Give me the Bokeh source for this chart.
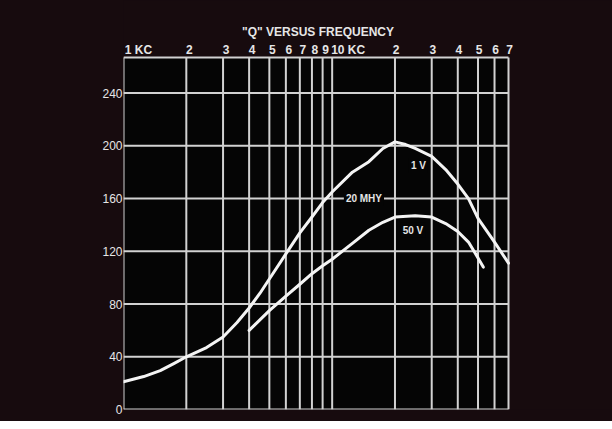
from bokeh.plotting import figure
from bokeh.models import Range1d, FixedTicker, LabelSet, Label, ColumnDataSource
from bokeh.core.properties import value
from bokeh.embed import file_html
from bokeh.resources import INLINE
import math

# ---- data ----
freq_1v = [1, 1.25, 1.5, 1.75, 2, 2.5, 3, 3.5, 4, 4.5, 5, 6, 7, 8, 9, 10, 12.5, 15, 17.5, 20, 22.5, 25, 30, 35, 40, 45, 50, 60, 70]
q_1v = [21, 25, 29.5, 35, 40, 47, 55, 66, 77, 88, 99, 118, 134, 146, 157, 165, 180, 188, 198, 203, 201, 198, 192, 182, 171, 160, 145, 127, 111]

freq_50v = [4, 5, 6, 7, 8, 9, 10, 12.5, 15, 17.5, 20, 25, 30, 35, 40, 45, 50, 53]
q_50v = [60, 75, 86, 95, 103, 109, 114, 126, 136, 142, 146, 147, 146, 141, 135, 127, 115, 108]

x_ticks = [1, 2, 3, 4, 5, 6, 7, 8, 9, 10, 20, 30, 40, 50, 60, 70]
x_tick_labels = ["1 KC", "2", "3", "4", "5", "6", "7", "8", "9", "10 KC", "2", "3", "4", "5", "6", "7"]
y_ticks = [0, 40, 80, 120, 160, 200, 240]
title_text = '"Q" VERSUS FREQUENCY'
curve_labels = ["1 V", "20 MHY", "50 V"]
curve_label_x = [25.9, 14.2, 24.4]
curve_label_y = [185, 160, 136]

# top of the printed grid (Q units)
Q_TOP = 267

# ---- layout / styling ----
W, H = 612, 421
LEFT, BOTTOM = 123, 12          # frame offsets in px
GRID_W, GRID_H = 385, 352       # size of the printed grid in px
FG = "#e6e6e6"
GRID = "#d2d2d2"
PAGE = "#170b0e"
INK = "#050505"
FONT = "Liberation Sans"

X0, X1 = x_ticks[0], x_ticks[-1]
decades = math.log10(X1 / X0)
x_end = X0 * 10 ** (decades * (W - LEFT) / GRID_W)
y_end = Q_TOP * (H - BOTTOM) / GRID_H

p = figure(width=W, height=H, x_axis_type="log", x_axis_location=None,
           x_range=Range1d(X0, x_end), y_range=Range1d(0, y_end),
           output_backend="svg", toolbar_location=None,
           min_border_left=LEFT, min_border_right=0, min_border_top=0, min_border_bottom=BOTTOM)

# page colour comes from the host element; the canvas border stays transparent
p.styles = {"background-color": PAGE}
p.border_fill_color = None
p.background_fill_color = PAGE
p.outline_line_color = None
p.xgrid.visible = False
p.ygrid.visible = False

# chart field
p.quad(left=[X0], right=[X1], bottom=[0], top=[Q_TOP], fill_color=INK, line_color=None)

# grid lines
p.segment(x0=x_ticks, x1=x_ticks, y0=[0] * len(x_ticks), y1=[Q_TOP] * len(x_ticks),
          line_color=GRID, line_width=2)
p.segment(x0=[X0] * len(y_ticks), x1=[X1] * len(y_ticks), y0=y_ticks, y1=y_ticks,
          line_color=GRID, line_width=2)
p.segment(x0=[X0], x1=[X1], y0=[Q_TOP], y1=[Q_TOP], line_color=GRID, line_width=2)

# y axis
ya = p.yaxis[0]
ya.ticker = FixedTicker(ticks=y_ticks)
ya.axis_line_color = None
ya.major_tick_line_color = None
ya.minor_tick_line_color = None
ya.major_tick_out = 0
ya.major_tick_in = 0
ya.major_label_standoff = 1
ya.major_label_text_color = FG
ya.major_label_text_font = FONT
ya.major_label_text_font_size = "12px"

# curves
p.line(freq_1v, q_1v, line_color="#f4f4f4", line_width=3, line_join="round", line_cap="round")
p.line(freq_50v, q_50v, line_color="#f4f4f4", line_width=3, line_join="round", line_cap="round")

# top frequency scale labels (through the x scale)
offsets = [3] * len(x_ticks)
offsets[0] = 15
offsets[9] = 16
for i in range(10, len(x_ticks)):
    offsets[i] = 1
src = ColumnDataSource(dict(x=x_ticks, text=x_tick_labels, xo=offsets))
p.add_layout(LabelSet(x="x", y=Q_TOP + 3, text="text", x_offset="xo", source=src,
                      text_align="center", text_baseline="alphabetic",
                      text_color=FG, text_font=value(FONT), text_font_size="12px",
                      text_font_style="bold"))

# title
xc = math.sqrt(X0 * X1)
p.add_layout(Label(x=xc, y=Q_TOP + 19, x_offset=2, text=title_text, text_align="center",
                   text_baseline="alphabetic", text_color=FG, text_font=FONT,
                   text_font_size="12px", text_font_style="bold"))

# curve annotations
for t, lx, ly in zip(curve_labels, curve_label_x, curve_label_y):
    p.add_layout(Label(x=lx, y=ly, text=t, text_align="center", text_baseline="middle",
                       text_color=FG, text_font=FONT, text_font_size="10px",
                       text_font_style="bold", background_fill_color=INK,
                       padding=2))

open("out.html", "w").write(file_html(p, INLINE))
